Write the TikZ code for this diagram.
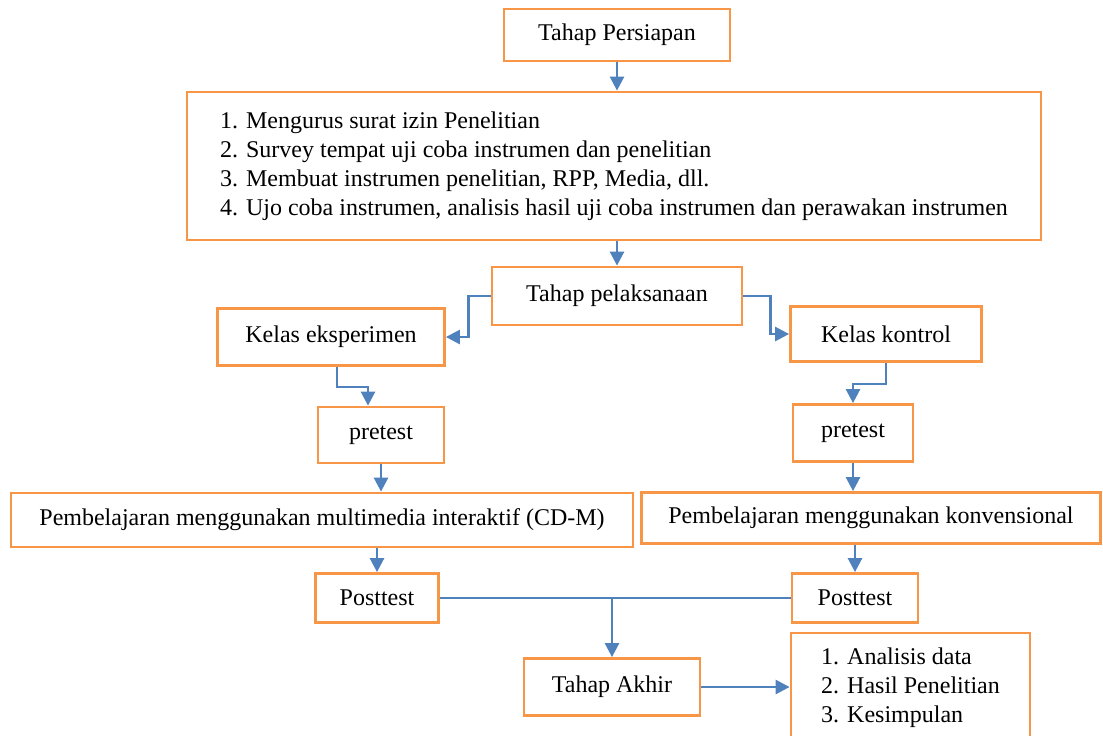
\documentclass[tikz,border=0pt]{standalone}
\usepackage{fontspec}
\setmainfont{Liberation Serif}
\usetikzlibrary{calc,arrows.meta}
\definecolor{oranye}{HTML}{F79646}
\definecolor{biru}{HTML}{4F81BD}

\begin{document}
\begin{tikzpicture}[x=0.5pt,y=-0.5pt,
	kotak/.style={draw=oranye,line width=1.4pt,inner sep=0pt,align=center,
		font=\fontsize{12}{14.5}\selectfont},
	panah/.style={draw=biru,line width=1.3pt,-{Triangle[width=7pt,length=7pt]}},
	garis/.style={draw=biru,line width=0.6pt}]
	\useasboundingbox (0,0) rectangle (1103,735);
	
	\node[kotak,minimum width=113pt,minimum height=26pt] (persiapan) at (617,35) {Tahap Persiapan};
	\node[kotak,align=left,minimum width=427pt,minimum height=74pt] (langkah) at (614,166)
	{1. Mengurus surat izin Penelitian\\
		2. Survey tempat uji coba instrumen dan penelitian\\
		3. Membuat instrumen penelitian, RPP, Media, dll.\\
		4. Ujo coba instrumen, analisis hasil uji coba instrumen dan perawakan instrumen};
	\node[kotak,minimum width=125pt,minimum height=29pt] (pelaksanaan) at (617,296) {Tahap pelaksanaan};
	
	\node[kotak,minimum width=113.5pt,minimum height=28.5pt] (eksperimen) at (331,337) {Kelas eksperimen};
	\node[kotak,minimum width=95.5pt,minimum height=27.5pt] (kontrol) at (886,334) {Kelas kontrol};
	
	\node[kotak,minimum width=63pt,minimum height=28pt] (pretestA) at (381,435) {pretest};
	\node[kotak,minimum width=60pt,minimum height=28.5pt] (pretestB) at (853,433) {pretest};
	
	\node[kotak,minimum width=311pt,minimum height=27pt] (belajarA) at (322,520) {Pembelajaran menggunakan multimedia interaktif (CD-M)};
	\node[kotak,minimum width=229.5pt,minimum height=25.5pt] (belajarB) at (871,518) {Pembelajaran menggunakan konvensional};
	
	\node[kotak,minimum width=61.5pt,minimum height=24.5pt] (posttestA) at (377,598) {Posttest};
	\node[kotak,minimum width=63pt,minimum height=24.5pt] (posttestB) at (855,598) {Posttest};
	
	\node[kotak,minimum width=88pt,minimum height=28.5pt] (akhir) at (612,687) {Tahap Akhir};
	\node[kotak,align=left,minimum width=119.5pt,minimum height=54.5pt] (hasil) at (910.5,687.5)
	{1. Analisis data\\
		2. Hasil Penelitian\\
		3. Kesimpulan};
	
	% alur utama
	\draw[panah] (persiapan.south) -- (persiapan.south |- langkah.north);
	\draw[panah] (pelaksanaan.north |- langkah.south) -- (pelaksanaan.north);
	\draw[panah] (pelaksanaan.west) -- ++(-22,0) |- (eksperimen.east);
	\draw[panah] (pelaksanaan.east) -- ++(27,0) |- (kontrol.west);
	
	\draw[panah] ([xshift=3pt]eksperimen.south) -- ++(0,20) -| ([xshift=-6.5pt]pretestA.north);
	\draw[panah] (kontrol.south) -- ++(0,21) -| (pretestB.north);
	
	\draw[panah] (pretestA.south) -- (pretestA.south |- belajarA.north);
	\draw[panah] (pretestB.south) -- (pretestB.south |- belajarB.north);
	\draw[panah] (posttestA.north |- belajarA.south) -- (posttestA.north);
	\draw[panah] (posttestB.north |- belajarB.south) -- (posttestB.north);
	
	% gabungan posttest
	\draw[garis] (posttestA.east) -- (posttestB.west);
	\draw[panah] (akhir.north |- posttestA.east) -- (akhir.north);
	\draw[panah] (akhir.east) -- (akhir.east -| hasil.west);
\end{tikzpicture}
\end{document}
